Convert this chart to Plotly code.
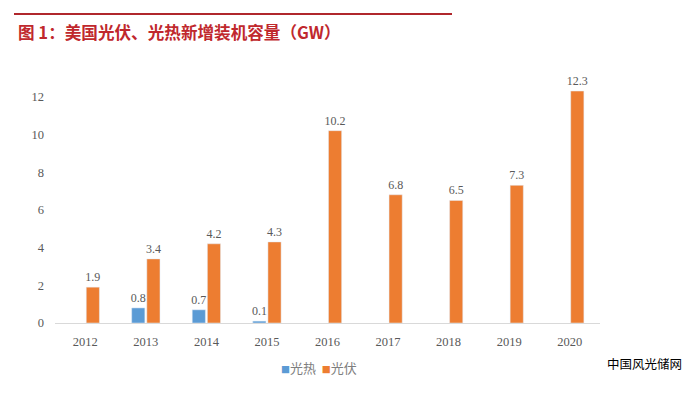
import plotly.graph_objects as go

years = ["2012", "2013", "2014", "2015", "2016", "2017", "2018", "2019", "2020"]
solar_thermal = [None, 0.8, 0.7, 0.1, None, None, None, None, None]
solar_pv = [1.9, 3.4, 4.2, 4.3, 10.2, 6.8, 6.5, 7.3, 12.3]
y_ticks = [0, 2, 4, 6, 8, 10, 12]
series_names = ["光热", "光伏"]
series_colors = ["#5B9BD5", "#ED7D31"]

def labels(vals):
    return ["" if v is None else f"{v:.1f}" for v in vals]

num_font = dict(family="Liberation Serif, Times New Roman, serif", size=12, color="#595959")
tick_font = dict(family="Liberation Serif, Times New Roman, serif", size=12.5, color="#595959")

# page body has an 8px margin; figure coordinates are page coordinates minus 8
W, H = 683, 385
L, R, T, B = 47, 592, 51, 315
pw, ph = R - L, B - T

def px(x):
    return (x - L) / pw

def py(y):
    return (B - y) / ph

fig = go.Figure()
for name, vals, col in zip(series_names, [solar_thermal, solar_pv], series_colors):
    fig.add_trace(go.Bar(
        name=name, x=years, y=vals, marker_color=col,
        text=labels(vals), textposition="outside", textfont=num_font,
        constraintext="none", cliponaxis=False,
    ))

legend_text = "  ".join(
    f"<span style='color:{c}; font-size:9px'>■</span>{n}" for n, c in zip(series_names, series_colors)
)

fig.update_layout(
    width=W, height=H,
    margin=dict(l=L, r=W - R, t=T, b=H - B),
    paper_bgcolor="white", plot_bgcolor="white",
    barmode="group", bargap=0.5, bargroupgap=0.13,
    showlegend=False,
    title=dict(text="<b>图 1：美国光伏、光热新增装机容量（GW）</b>", xref="container", yref="container",
               x=10 / W, y=1 - 25 / H, xanchor="left", yanchor="middle",
               font=dict(family="Noto Sans CJK SC", size=16.6, color="#C0282D")),
    xaxis=dict(showline=True, linecolor="#D9D9D9", linewidth=1, ticks="",
               tickfont=tick_font, showgrid=False, ticklabelstandoff=7),
    yaxis=dict(range=[0, 14], tickvals=y_ticks, showgrid=False, zeroline=False,
               showline=False, tickfont=tick_font, ticklabelstandoff=10),
    shapes=[dict(type="line", xref="paper", yref="paper",
                 x0=px(6), x1=px(444), y0=py(6), y1=py(6),
                 line=dict(color="#B0272C", width=2))],
    annotations=[
        dict(text=legend_text, xref="paper", yref="paper",
             x=px(311), y=py(359), xanchor="center", yanchor="middle", showarrow=False,
             font=dict(family="Noto Sans CJK SC", size=13, color="#7F7F7F")),
        dict(text="中国风光储网", xref="paper", yref="paper",
             x=px(636), y=py(355), xanchor="center", yanchor="middle",
             showarrow=False, font=dict(family="Noto Sans CJK SC", size=12.5, color="#000000")),
    ],
)

fig.write_html("out.html")
